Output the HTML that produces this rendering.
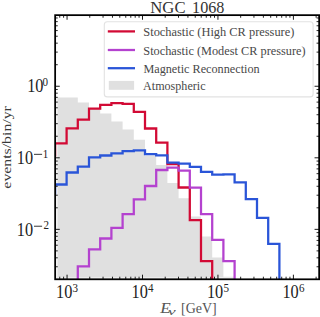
<!DOCTYPE html>
<html><head><meta charset="utf-8"><style>
html,body{margin:0;padding:0;background:#fff;}
svg{display:block;}
</style></head><body>
<svg width="320" height="317" viewBox="0 0 320 317">
<defs><clipPath id="ax"><rect x="55.15" y="15.15" width="264.0" height="264.15000000000003"/></clipPath></defs>
<rect width="320" height="317" fill="#fff"/>
<g clip-path="url(#ax)">
<path d="M44.20,300.00 L44.20,97.40 L55.10,97.40 L55.10,97.40 L66.60,97.40 L66.60,97.40 L77.80,97.40 L77.80,102.60 L89.00,102.60 L89.00,107.90 L100.20,107.90 L100.20,113.60 L111.40,113.60 L111.40,121.60 L122.60,121.60 L122.60,129.60 L133.80,129.60 L133.80,139.80 L145.00,139.80 L145.00,155.40 L156.20,155.40 L156.20,164.90 L167.40,164.90 L167.40,182.90 L178.60,182.90 L178.60,198.30 L189.80,198.30 L189.80,216.40 L201.00,216.40 L201.00,236.40 L212.20,236.40 L212.20,257.40 L223.40,257.40 L223.40,276.70 L234.60,276.70 L234.60,300.00 Z" fill="#e0e0e0" stroke="none"/>
<rect x="56" y="16" width="1" height="262" fill="#fff" fill-opacity="0.75"/>
<rect x="57" y="16" width="1" height="262" fill="#fff" fill-opacity="0.35"/>
<rect x="58" y="277" width="260" height="1" fill="#fff" fill-opacity="0.4"/>
<g fill="none" stroke-width="2.27" stroke-linejoin="miter" stroke-linecap="butt">
<path d="M44.20,300.00 L44.20,155.40 L55.10,155.40 L55.10,143.40 L66.60,143.40 L66.60,128.30 L77.80,128.30 L77.80,119.60 L89.00,119.60 L89.00,108.60 L100.20,108.60 L100.20,104.90 L111.40,104.90 L111.40,103.20 L122.60,103.20 L122.60,103.80 L133.80,103.80 L133.80,111.80 L145.00,111.80 L145.00,128.50 L156.20,128.50 L156.20,142.70 L167.40,142.70 L167.40,164.20 L178.60,164.20 L178.60,187.50 L189.80,187.50 L189.80,220.20 L201.00,220.20 L201.00,261.20 L212.20,261.20 L212.20,300.00" stroke="#d20a35"/>
<path d="M77.80,300.00 L77.80,266.30 L89.00,266.30 L89.00,249.30 L100.20,249.30 L100.20,238.50 L111.40,238.50 L111.40,227.80 L122.60,227.80 L122.60,214.20 L133.80,214.20 L133.80,199.40 L145.00,199.40 L145.00,186.00 L156.20,186.00 L156.20,170.00 L167.40,170.00 L167.40,167.60 L178.60,167.60 L178.60,170.70 L189.80,170.70 L189.80,187.60 L201.00,187.60 L201.00,214.10 L212.20,214.10 L212.20,239.80 L223.40,239.80 L223.40,261.20 L234.60,261.20 L234.60,300.00" stroke="#b442cf"/>
<path d="M44.20,300.00 L44.20,193.40 L55.10,193.40 L55.10,184.50 L66.60,184.50 L66.60,172.50 L77.80,172.50 L77.80,166.60 L89.00,166.60 L89.00,157.40 L100.20,157.40 L100.20,155.50 L111.40,155.50 L111.40,153.30 L122.60,153.30 L122.60,151.10 L133.80,151.10 L133.80,150.40 L145.00,150.40 L145.00,154.10 L156.20,154.10 L156.20,155.30 L167.40,155.30 L167.40,162.60 L178.60,162.60 L178.60,163.70 L189.80,163.70 L189.80,166.80 L201.00,166.80 L201.00,171.90 L212.20,171.90 L212.20,174.70 L223.40,174.70 L223.40,174.30 L234.60,174.30 L234.60,182.30 L245.80,182.30 L245.80,199.10 L257.00,199.10 L257.00,217.90 L268.20,217.90 L268.20,243.80 L279.40,243.80 L279.40,300.00" stroke="#2a55d8"/>
</g>
</g>
<path d="M67.05,279.3 v-4.6 M67.05,15.15 v4.6 M142.50,279.3 v-4.6 M142.50,15.15 v4.6 M217.95,279.3 v-4.6 M217.95,15.15 v4.6 M293.40,279.3 v-4.6 M293.40,15.15 v4.6 M55.15,229.35 h4.6 M319.15,229.35 h-4.6 M55.15,157.80 h4.6 M319.15,157.80 h-4.6 M55.15,86.25 h4.6 M319.15,86.25 h-4.6" stroke="#000" stroke-width="0.9" fill="none"/>
<path d="M59.74,279.3 v-2.6 M59.74,15.15 v2.6 M63.60,279.3 v-2.6 M63.60,15.15 v2.6 M89.76,279.3 v-2.6 M89.76,15.15 v2.6 M103.05,279.3 v-2.6 M103.05,15.15 v2.6 M112.48,279.3 v-2.6 M112.48,15.15 v2.6 M119.79,279.3 v-2.6 M119.79,15.15 v2.6 M125.76,279.3 v-2.6 M125.76,15.15 v2.6 M130.81,279.3 v-2.6 M130.81,15.15 v2.6 M135.19,279.3 v-2.6 M135.19,15.15 v2.6 M139.05,279.3 v-2.6 M139.05,15.15 v2.6 M165.21,279.3 v-2.6 M165.21,15.15 v2.6 M178.50,279.3 v-2.6 M178.50,15.15 v2.6 M187.93,279.3 v-2.6 M187.93,15.15 v2.6 M195.24,279.3 v-2.6 M195.24,15.15 v2.6 M201.21,279.3 v-2.6 M201.21,15.15 v2.6 M206.26,279.3 v-2.6 M206.26,15.15 v2.6 M210.64,279.3 v-2.6 M210.64,15.15 v2.6 M214.50,279.3 v-2.6 M214.50,15.15 v2.6 M240.66,279.3 v-2.6 M240.66,15.15 v2.6 M253.95,279.3 v-2.6 M253.95,15.15 v2.6 M263.38,279.3 v-2.6 M263.38,15.15 v2.6 M270.69,279.3 v-2.6 M270.69,15.15 v2.6 M276.66,279.3 v-2.6 M276.66,15.15 v2.6 M281.71,279.3 v-2.6 M281.71,15.15 v2.6 M286.09,279.3 v-2.6 M286.09,15.15 v2.6 M289.95,279.3 v-2.6 M289.95,15.15 v2.6 M316.11,279.3 v-2.6 M316.11,15.15 v2.6 M55.15,266.76 h2.6 M319.15,266.76 h-2.6 M55.15,257.82 h2.6 M319.15,257.82 h-2.6 M55.15,250.89 h2.6 M319.15,250.89 h-2.6 M55.15,245.22 h2.6 M319.15,245.22 h-2.6 M55.15,240.43 h2.6 M319.15,240.43 h-2.6 M55.15,236.28 h2.6 M319.15,236.28 h-2.6 M55.15,232.62 h2.6 M319.15,232.62 h-2.6 M55.15,207.81 h2.6 M319.15,207.81 h-2.6 M55.15,195.21 h2.6 M319.15,195.21 h-2.6 M55.15,186.27 h2.6 M319.15,186.27 h-2.6 M55.15,179.34 h2.6 M319.15,179.34 h-2.6 M55.15,173.67 h2.6 M319.15,173.67 h-2.6 M55.15,168.88 h2.6 M319.15,168.88 h-2.6 M55.15,164.73 h2.6 M319.15,164.73 h-2.6 M55.15,161.07 h2.6 M319.15,161.07 h-2.6 M55.15,136.26 h2.6 M319.15,136.26 h-2.6 M55.15,123.66 h2.6 M319.15,123.66 h-2.6 M55.15,114.72 h2.6 M319.15,114.72 h-2.6 M55.15,107.79 h2.6 M319.15,107.79 h-2.6 M55.15,102.12 h2.6 M319.15,102.12 h-2.6 M55.15,97.33 h2.6 M319.15,97.33 h-2.6 M55.15,93.18 h2.6 M319.15,93.18 h-2.6 M55.15,89.52 h2.6 M319.15,89.52 h-2.6 M55.15,64.71 h2.6 M319.15,64.71 h-2.6 M55.15,52.11 h2.6 M319.15,52.11 h-2.6 M55.15,43.17 h2.6 M319.15,43.17 h-2.6 M55.15,36.24 h2.6 M319.15,36.24 h-2.6 M55.15,30.57 h2.6 M319.15,30.57 h-2.6 M55.15,25.78 h2.6 M319.15,25.78 h-2.6 M55.15,21.63 h2.6 M319.15,21.63 h-2.6 M55.15,17.97 h2.6 M319.15,17.97 h-2.6" stroke="#000" stroke-width="0.85" fill="none"/>
<rect x="55.15" y="15.15" width="264.0" height="264.15000000000003" fill="none" stroke="#000" stroke-width="1.75"/>
<rect x="104.3" y="21.8" width="208.8" height="75.1" rx="3" ry="3" fill="#fff" fill-opacity="0.8" stroke="#e2e2e2" stroke-width="1.1"/>
<g stroke-width="2.27">
<line x1="107.8" y1="31.4" x2="135" y2="31.4" stroke="#d20a35"/>
<line x1="107.8" y1="50.0" x2="135" y2="50.0" stroke="#b442cf"/>
<line x1="107.8" y1="68.2" x2="135" y2="68.2" stroke="#2a55d8"/>
</g>
<rect x="108.8" y="80.9" width="25.3" height="8.9" fill="#e0e0e0"/>
<g font-family="Liberation Serif" fill="#222">
<text transform="translate(143.3,36.2) scale(1.0,1)" font-size="12.4" id="l1" fill="#484848">Stochastic (High CR pressure)</text>
<text transform="translate(143.3,54.7) scale(0.993,1)" font-size="12.4" id="l2" fill="#484848">Stochastic (Modest CR pressure)</text>
<text transform="translate(143.4,72.9) scale(0.985,1)" font-size="12.4" id="l3" fill="#484848">Magnetic Reconnection</text>
<text transform="translate(143.1,90.4) scale(0.975,1)" font-size="12.4" id="l4" fill="#484848">Atmospheric</text>
<text transform="translate(150.3,12.6) scale(0.97,1.02)" font-size="17.2" id="title" fill="#333">NGC</text>
<text transform="translate(192.1,12.6) scale(0.94,1.02)" font-size="17.2" id="title2" fill="#333">1068</text>
<text transform="translate(56.07,298.30) scale(1.0,1.11)" font-size="16.3">10</text>
<text transform="translate(72.60,292.00) scale(0.97,1.13)" font-size="11.4">3</text>
<text transform="translate(131.52,298.30) scale(1.0,1.11)" font-size="16.3">10</text>
<text transform="translate(148.05,292.00) scale(0.97,1.13)" font-size="11.4">4</text>
<text transform="translate(206.97,298.30) scale(1.0,1.11)" font-size="16.3">10</text>
<text transform="translate(223.50,292.00) scale(0.97,1.13)" font-size="11.4">5</text>
<text transform="translate(282.42,298.30) scale(1.0,1.11)" font-size="16.3">10</text>
<text transform="translate(298.95,292.00) scale(0.97,1.13)" font-size="11.4">6</text>
<text transform="translate(27.17,92.30) scale(1.0,1.11)" font-size="16.3">10</text>
<text transform="translate(42.57,85.80) scale(0.97,1.03)" font-size="11.4">0</text>
<text transform="translate(16.77,164.00) scale(1.0,1.11)" font-size="16.3">10</text>
<rect x="34" y="153.85" width="8.1" height="0.9"/>
<text transform="translate(42.70,158.20) scale(0.97,1.15)" font-size="11.4">1</text>
<text transform="translate(16.77,235.60) scale(1.0,1.11)" font-size="16.3">10</text>
<rect x="34" y="225.75" width="8.1" height="0.9"/>
<text transform="translate(43.40,229.00) scale(0.97,1.08)" font-size="11.4">2</text>
<text transform="translate(11.2,147.4) rotate(-90) scale(1.18,1)" x="0" y="0" font-size="13.4" text-anchor="middle" id="ylab" fill="#383838">events/bin/yr</text>
<text transform="translate(160.2,312.5) scale(1.2,1.06)" font-size="14.3" font-style="italic" id="xE" fill="#555">E</text>
<text transform="translate(168.0,314.6) scale(1.65,1)" font-size="10.5" font-style="italic" id="xnu" fill="#555">&#957;</text>
<text transform="translate(181,312.6) scale(1,1.08)" font-size="14" id="xgev" fill="#555">[GeV]</text>
</g>
</svg>
</body></html>
